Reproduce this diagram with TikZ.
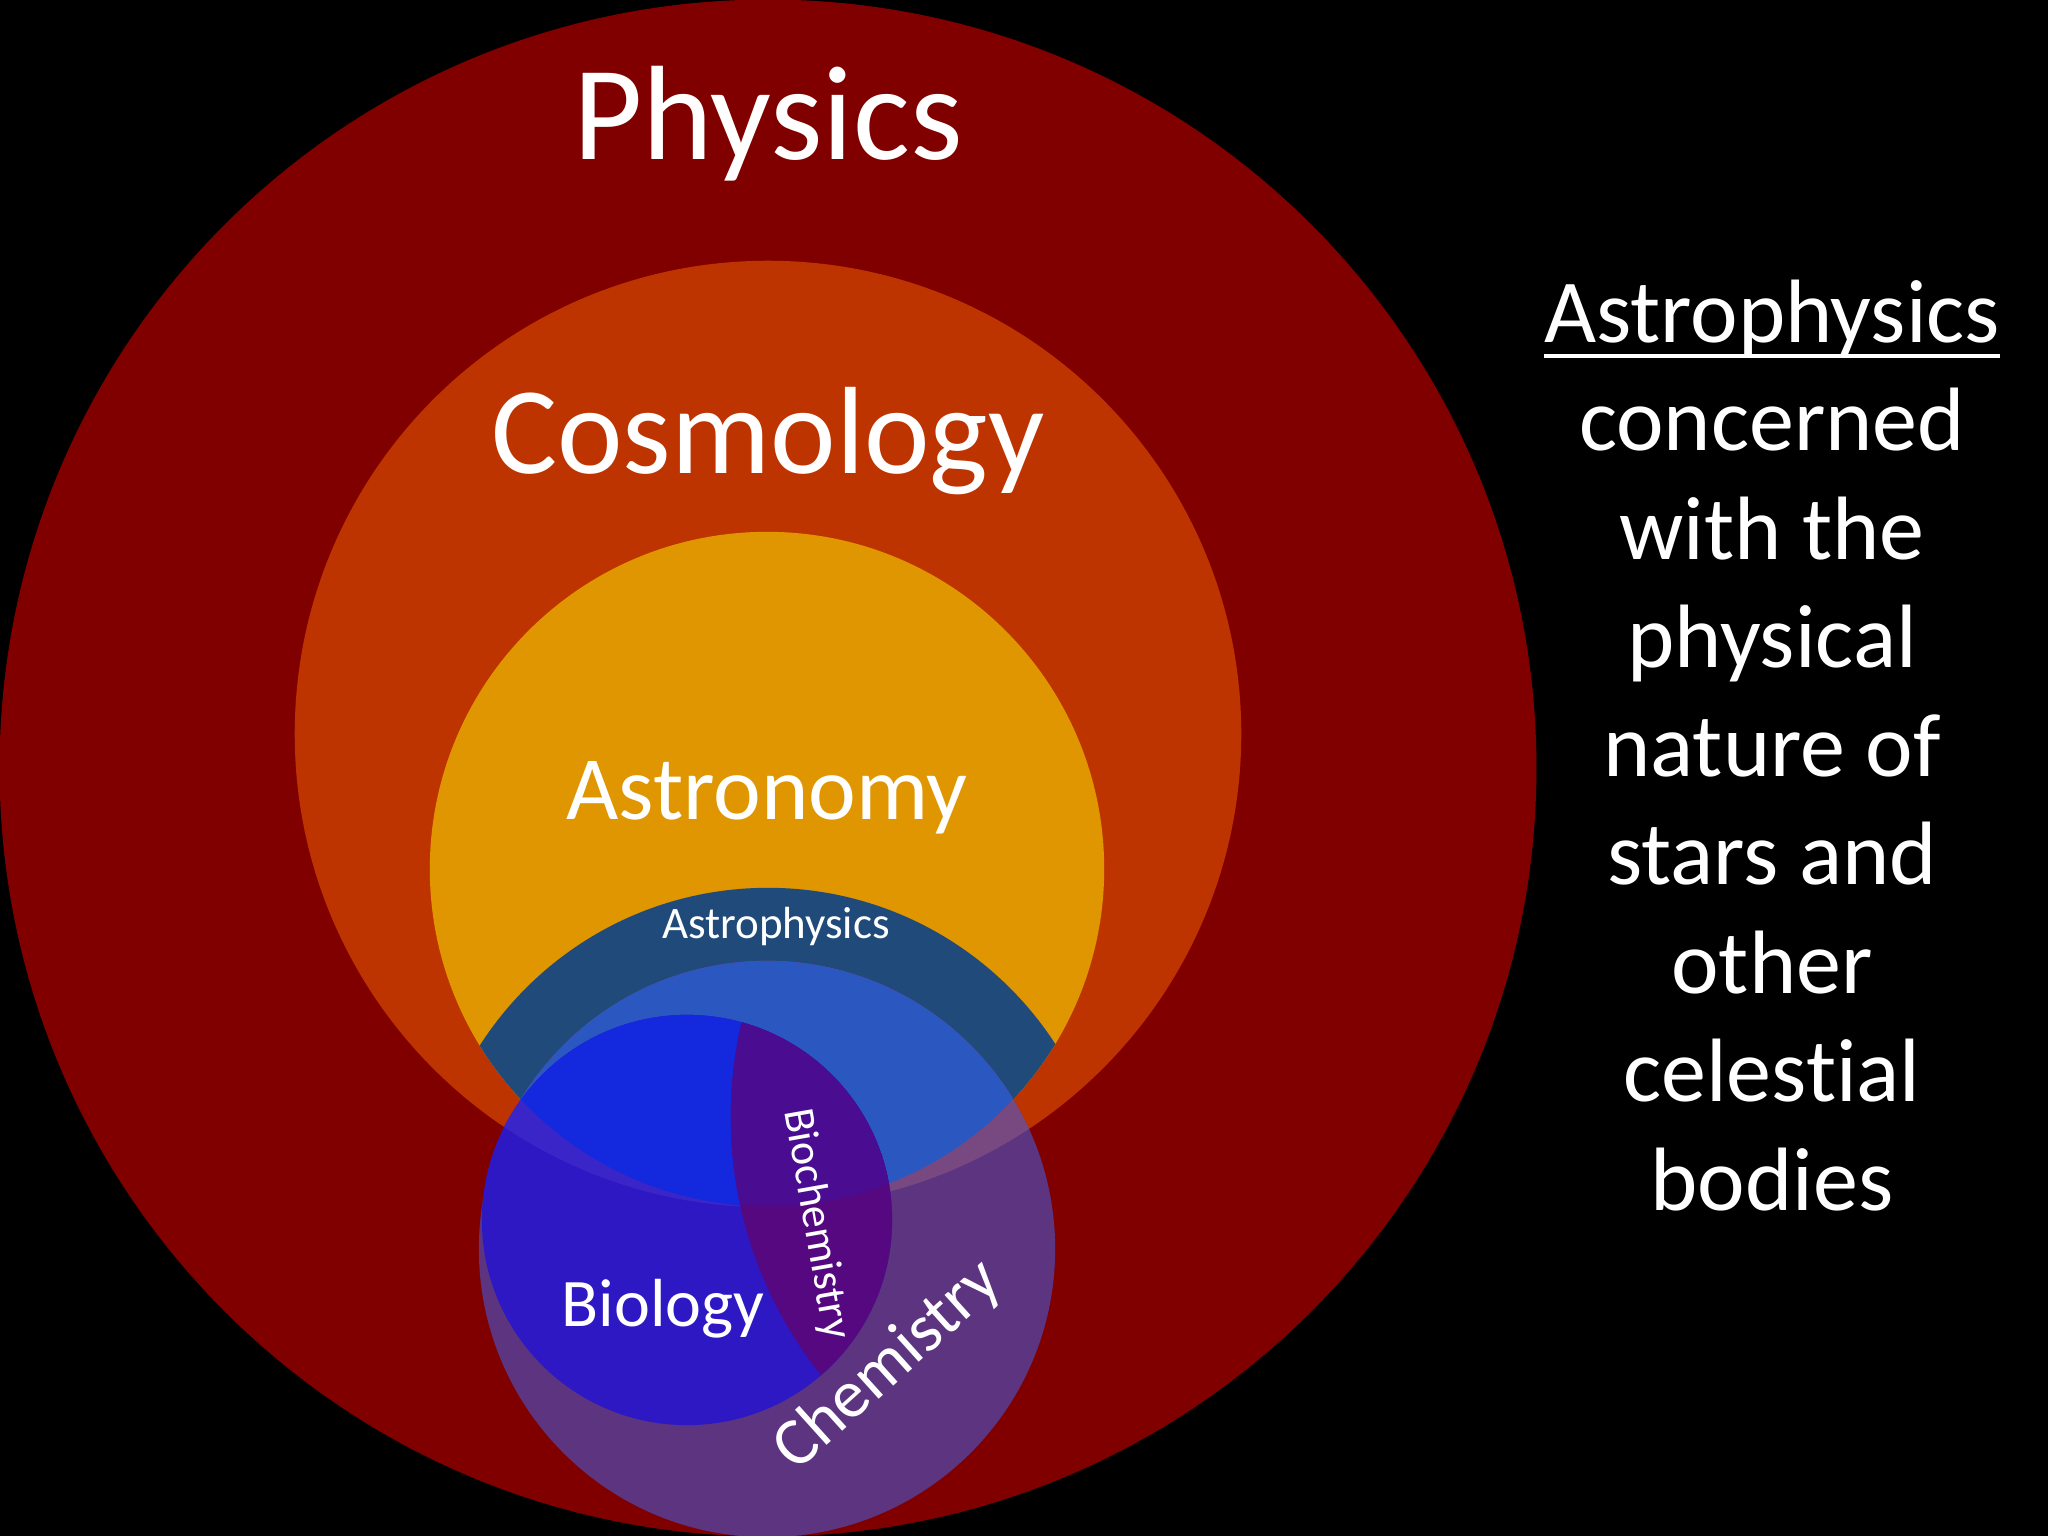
\documentclass[tikz,border=0pt]{standalone}
\usepackage{fontspec}
\setmainfont{Carlito}[Ligatures=NoCommon]
\definecolor{physred}{RGB}{128,0,0}
\definecolor{cosmored}{RGB}{190,52,0}
\definecolor{astroyel}{RGB}{224,150,0}
\definecolor{apblue}{RGB}{31,74,122}
\definecolor{chemlight}{RGB}{43,88,192}
\definecolor{chemphys}{RGB}{92,52,128}
\definecolor{chemcosmo}{RGB}{120,72,128}
\definecolor{biobright}{RGB}{20,40,222}
\definecolor{biodark}{RGB}{45,24,196}
\definecolor{biocosmo}{RGB}{58,38,200}
\definecolor{bctop}{RGB}{74,12,144}
\definecolor{bcbot}{RGB}{86,8,128}
\newcommand\cPhys{(768,768) circle [radius=7.68cm]}
\newcommand\cCosmo{(768,734) circle [radius=4.73cm]}
\newcommand\cAstro{(767,869) circle [radius=3.37cm]}
\newcommand\cLow{(768,1230) circle [radius=3.42cm]}
\newcommand\cChem{(767,1249) circle [radius=2.88cm]}
\newcommand\cBio{(687,1220) circle [radius=2.05cm]}
\newcommand\cKc{(1145,1117) circle [radius=4.14cm]}
\newcommand\fsz[1]{\fontsize{#1}{1.2\dimexpr#1\relax}\selectfont}
\begin{document}
\begin{tikzpicture}[x=0.01cm,y=-0.01cm,
  lbl/.style={text=white, inner sep=0pt, outer sep=0pt},
  side/.style={lbl, anchor=base, font=\fsz{25.6pt}}]
\useasboundingbox (0,0) rectangle (2048,1536);
\fill[black] (0,0) rectangle (2048,1536);
% nested fields
\fill[physred] \cPhys;
\fill[cosmored] \cCosmo;
\fill[astroyel] \cAstro;
\begin{scope}
  \clip \cAstro;
  \fill[apblue] \cLow;
\end{scope}
% chemistry
\fill[chemphys] \cChem;
\begin{scope}
  \clip \cChem;
  \fill[chemcosmo] \cCosmo;
  \clip \cAstro;
  \fill[chemlight] \cAstro;
\end{scope}
% biology
\fill[biodark] \cBio;
\begin{scope}
  \clip \cBio;
  \fill[biocosmo] \cCosmo;
  \clip \cAstro;
  \fill[biobright] \cAstro;
\end{scope}
% biochemistry
\begin{scope}
  \clip \cBio;
  \clip \cKc;
  \fill[bcbot] \cKc;
  \clip \cAstro;
  \fill[bctop] \cAstro;
\end{scope}
% labels
\node[lbl, anchor=base, font=\fsz{38.2pt}] (physics) at (768,159) {Physics};
\node[lbl, anchor=base, font=\fsz{35.3pt}] (cosmology) at (768,473) {Cosmology};
\node[lbl, anchor=base, font=\fsz{25.7pt}] (astronomy) at (767,819) {Astronomy};
\node[lbl, anchor=base, font=\fsz{12.8pt}] (astrophysics) at (776,938) {Astrophysics};
\node[lbl, anchor=base, font=\fsz{19.35pt}] (biology) at (663,1326) {Biology};
\node[lbl, anchor=center, rotate=-80, font=\fsz{12.5pt}] (biochemistry) at (816,1224) {Biochemistry};
\node[lbl, anchor=center, rotate=42, font=\fsz{19.35pt}] (chemistry) at (888,1366) {Chemistry};
% side text
\node[side] (s0) at (1772,342) {Astrophysics};
\node[side] (s1) at (1772,450.5) {concerned};
\node[side] (s2) at (1772,559) {with the};
\node[side] (s3) at (1772,667.5) {physical};
\node[side] (s4) at (1772,776) {nature of};
\node[side] (s5) at (1772,884.5) {stars and};
\node[side] (s6) at (1772,993) {other};
\node[side] (s7) at (1772,1101.5) {celestial};
\node[side] (s8) at (1772,1210) {bodies};
\draw[white, line width=1.15pt] ([yshift=-0.14cm]s0.base west) -- ([yshift=-0.14cm]s0.base east);
\end{tikzpicture}
\end{document}
